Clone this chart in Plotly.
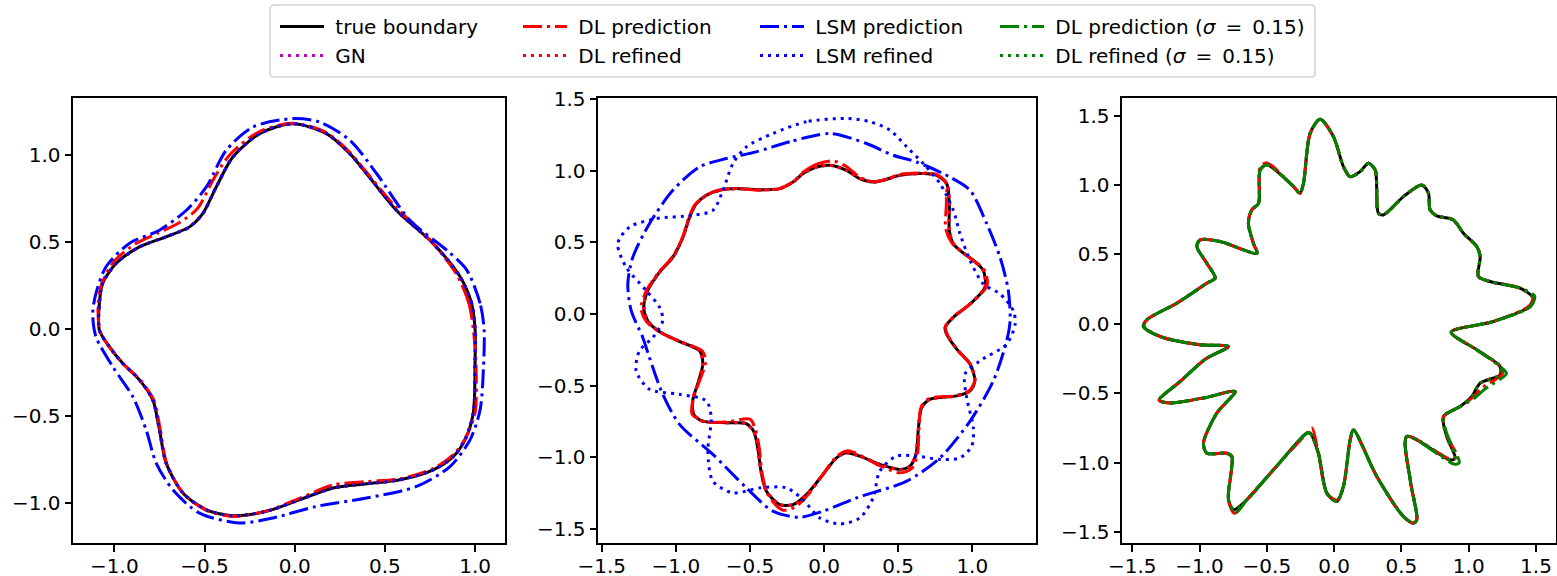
import plotly.graph_objects as go

# ---------------- data ----------------
# Panel 1
TRUE1_X = [1.0, 0.98, 0.917, 0.768, 0.565, 0.398, 0.306, 0.176, -0.01, -0.194, -0.343, -0.435, -0.509, -0.583, -0.713, -0.861, -0.991, -1.065, -1.083, -1.083, -1.028, -0.954, -0.861, -0.787, -0.75, -0.713, -0.62, -0.49, -0.343, -0.157, 0.028, 0.213, 0.398, 0.583, 0.768, 0.88, 0.944, 0.99, 1.0, 1.0]
TRUE1_Y = [0.0, 0.15, 0.30, 0.49, 0.68, 0.892, 1.006, 1.121, 1.178, 1.121, 0.987, 0.815, 0.663, 0.586, 0.529, 0.471, 0.376, 0.262, 0.147, -0.006, -0.101, -0.196, -0.292, -0.407, -0.578, -0.769, -0.941, -1.037, -1.071, -1.046, -0.979, -0.912, -0.888, -0.865, -0.808, -0.731, -0.636, -0.483, -0.196, 0.0]
DL1_X = [0.99, 0.965, 0.90, 0.76, 0.56, 0.39, 0.30, 0.17, -0.01, -0.20, -0.36, -0.45, -0.54, -0.64, -0.76, -0.88, -1.00, -1.07, -1.09, -1.08, -1.03, -0.95, -0.85, -0.78, -0.745, -0.71, -0.62, -0.49, -0.34, -0.16, 0.03, 0.21, 0.40, 0.58, 0.77, 0.88, 0.945, 1.0, 1.005, 0.99]
DL1_Y = [0.0, 0.15, 0.31, 0.50, 0.70, 0.91, 1.02, 1.13, 1.18, 1.13, 1.00, 0.86, 0.69, 0.61, 0.55, 0.49, 0.39, 0.26, 0.14, -0.01, -0.10, -0.20, -0.30, -0.41, -0.58, -0.77, -0.94, -1.04, -1.075, -1.045, -0.97, -0.895, -0.875, -0.86, -0.80, -0.72, -0.63, -0.48, -0.20, 0.0]
LSM1_X = [1.05, 1.028, 0.954, 0.843, 0.639, 0.454, 0.306, 0.139, -0.01, -0.231, -0.38, -0.49, -0.602, -0.75, -0.917, -1.046, -1.102, -1.12, -1.102, -1.009, -0.898, -0.824, -0.768, -0.676, -0.528, -0.306, -0.12, 0.12, 0.398, 0.676, 0.861, 0.972, 1.028, 1.046, 1.05]
LSM1_Y = [0.0, 0.147, 0.338, 0.452, 0.624, 0.892, 1.083, 1.187, 1.207, 1.159, 1.025, 0.815, 0.68, 0.567, 0.491, 0.357, 0.204, 0.09, -0.044, -0.216, -0.388, -0.578, -0.769, -0.922, -1.056, -1.113, -1.084, -1.018, -0.97, -0.903, -0.789, -0.636, -0.464, -0.235, 0.0]

# Panel 2
TRUE2_X = [0.04, -0.051, -0.142, -0.209, -0.299, -0.457, -0.592, -0.705, -0.795, -0.862, -0.907, -0.952, -1.02, -1.11, -1.189, -1.216, -1.189, -1.12, -0.98, -0.84, -0.818, -0.85, -0.885, -0.88, -0.818, -0.66, -0.53, -0.475, -0.445, -0.425, -0.389, -0.299, -0.209, -0.119, -0.007, 0.084, 0.151, 0.241, 0.376, 0.511, 0.579, 0.62, 0.635, 0.658, 0.713, 0.895, 0.985, 1.017, 0.985, 0.895, 0.827, 0.816, 0.872, 0.985, 1.086, 1.074, 1.007, 0.917, 0.872, 0.845, 0.845, 0.827, 0.759, 0.669, 0.511, 0.399, 0.331, 0.241, 0.151, 0.04]
TRUE2_Y = [1.039, 1.027, 0.981, 0.922, 0.876, 0.869, 0.876, 0.864, 0.829, 0.771, 0.677, 0.537, 0.397, 0.292, 0.164, 0.047, -0.047, -0.117, -0.19, -0.257, -0.35, -0.48, -0.60, -0.70, -0.748, -0.76, -0.765, -0.82, -0.95, -1.10, -1.238, -1.332, -1.332, -1.262, -1.121, -1.005, -0.97, -0.993, -1.051, -1.086, -1.063, -0.98, -0.818, -0.654, -0.596, -0.572, -0.537, -0.467, -0.35, -0.245, -0.14, -0.094, -0.023, 0.07, 0.187, 0.304, 0.374, 0.444, 0.491, 0.584, 0.771, 0.911, 0.969, 0.981, 0.969, 0.934, 0.922, 0.946, 1.004, 1.039]
DL2_X = [0.06, -0.04, -0.142, -0.209, -0.299, -0.457, -0.592, -0.705, -0.795, -0.87, -0.915, -0.96, -1.03, -1.12, -1.2, -1.235, -1.2, -1.12, -0.98, -0.82, -0.80, -0.845, -0.885, -0.89, -0.818, -0.66, -0.5, -0.465, -0.435, -0.42, -0.38, -0.28, -0.19, -0.11, -0.007, 0.084, 0.16, 0.25, 0.376, 0.511, 0.59, 0.63, 0.64, 0.655, 0.71, 0.895, 0.985, 1.017, 0.985, 0.895, 0.83, 0.82, 0.872, 0.985, 1.10, 1.08, 1.007, 0.917, 0.86, 0.82, 0.825, 0.82, 0.759, 0.669, 0.511, 0.399, 0.331, 0.241, 0.151, 0.06]
DL2_Y = [1.07, 1.05, 0.99, 0.925, 0.876, 0.865, 0.876, 0.866, 0.83, 0.765, 0.665, 0.52, 0.39, 0.285, 0.16, 0.04, -0.05, -0.12, -0.19, -0.26, -0.34, -0.48, -0.60, -0.70, -0.75, -0.755, -0.735, -0.80, -0.95, -1.10, -1.26, -1.37, -1.345, -1.265, -1.12, -0.995, -0.955, -0.99, -1.06, -1.11, -1.08, -0.98, -0.818, -0.65, -0.59, -0.57, -0.53, -0.46, -0.35, -0.245, -0.14, -0.09, -0.02, 0.07, 0.20, 0.31, 0.374, 0.444, 0.50, 0.60, 0.77, 0.92, 0.975, 0.985, 0.975, 0.935, 0.925, 0.955, 1.03, 1.07]
LSM2_X = [0.04, -0.232, -0.457, -0.659, -0.84, -1.02, -1.178, -1.29, -1.324, -1.301, -1.223, -1.178, -1.088, -0.975, -0.75, -0.524, -0.345, -0.164, -0.007, 0.219, 0.557, 0.782, 0.985, 1.142, 1.232, 1.255, 1.243, 1.187, 1.097, 0.985, 0.849, 0.624, 0.466, 0.286, 0.04]
LSM2_Y = [1.261, 1.203, 1.133, 1.086, 1.028, 0.864, 0.631, 0.397, 0.21, 0.023, -0.164, -0.304, -0.561, -0.771, -0.981, -1.215, -1.378, -1.42, -1.378, -1.285, -1.168, -1.005, -0.748, -0.467, -0.187, -0.047, 0.164, 0.397, 0.631, 0.864, 0.957, 1.062, 1.109, 1.191, 1.261]
LSMR2_X = [0.151, -0.119, -0.345, -0.524, -0.615, -0.682, -0.75, -0.885, -1.133, -1.313, -1.392, -1.335, -1.2, -1.11, -1.088, -1.155, -1.245, -1.268, -1.178, -0.975, -0.795, -0.761, -0.784, -0.75, -0.615, -0.434, -0.254, -0.142, -0.029, 0.106, 0.241, 0.331, 0.376, 0.489, 0.624, 0.782, 0.917, 0.996, 1.007, 0.962, 0.951, 1.052, 1.232, 1.289, 1.277, 1.187, 1.074, 0.985, 0.917, 0.872, 0.782, 0.669, 0.557, 0.444, 0.309, 0.151]
LSMR2_Y = [1.366, 1.343, 1.261, 1.168, 1.051, 0.864, 0.724, 0.689, 0.666, 0.607, 0.491, 0.327, 0.164, 0.047, -0.047, -0.164, -0.257, -0.397, -0.526, -0.561, -0.607, -0.724, -0.958, -1.168, -1.25, -1.215, -1.215, -1.297, -1.425, -1.467, -1.425, -1.285, -1.098, -0.993, -0.993, -1.016, -1.005, -0.923, -0.795, -0.584, -0.42, -0.327, -0.21, -0.07, 0.023, 0.14, 0.21, 0.374, 0.561, 0.724, 0.911, 1.051, 1.168, 1.285, 1.343, 1.366]

# Panel 3
TRUE3_X = [-0.104, -0.005, 0.069, 0.119, 0.193, 0.255, 0.305, 0.329, 0.366, 0.515, 0.651, 0.701, 0.713, 0.763, 0.886, 0.961, 1.06, 1.085, 1.072, 1.159, 1.382, 1.481, 1.456, 1.183, 0.87, 1.06, 1.233, 1.233, 1.085, 1.023, 0.936, 0.812, 0.837, 0.899, 0.862, 0.54, 0.565, 0.614, 0.589, 0.515, 0.317, 0.143, 0.119, 0.069, 0.02, -0.054, -0.117, -0.178, -0.203, -0.451, -0.649, -0.748, -0.785, -0.76, -0.797, -0.946, -0.971, -0.872, -0.736, -0.95, -1.22, -1.3, -1.15, -0.95, -0.785, -1.0, -1.293, -1.417, -1.392, -1.169, -0.946, -0.884, -0.946, -1.02, -0.996, -0.847, -0.574, -0.6, -0.637, -0.612, -0.562, -0.55, -0.5, -0.302, -0.253, -0.228, -0.178, -0.104]
TRUE3_Y = [1.475, 1.349, 1.133, 1.061, 1.097, 1.158, 1.109, 0.797, 0.785, 0.917, 1.001, 0.941, 0.821, 0.778, 0.749, 0.653, 0.557, 0.485, 0.341, 0.305, 0.257, 0.185, 0.125, 0.017, -0.06, -0.187, -0.308, -0.367, -0.427, -0.524, -0.596, -0.668, -0.812, -0.968, -0.98, -0.812, -1.124, -1.412, -1.436, -1.388, -1.1, -0.764, -0.836, -1.172, -1.28, -1.22, -0.932, -0.788, -0.788, -1.052, -1.268, -1.34, -1.268, -0.956, -0.932, -0.932, -0.86, -0.643, -0.488, -0.53, -0.57, -0.55, -0.42, -0.25, -0.163, -0.15, -0.091, -0.019, 0.029, 0.149, 0.293, 0.329, 0.437, 0.557, 0.605, 0.593, 0.509, 0.581, 0.725, 0.821, 0.869, 1.109, 1.146, 0.989, 0.941, 1.013, 1.373, 1.475]
DL3_X = [-0.104, -0.005, 0.069, 0.119, 0.193, 0.255, 0.305, 0.329, 0.366, 0.515, 0.651, 0.701, 0.713, 0.763, 0.886, 0.961, 1.06, 1.085, 1.072, 1.159, 1.382, 1.475, 1.45, 1.183, 0.87, 1.06, 1.24, 1.25, 1.10, 1.03, 0.936, 0.815, 0.84, 0.91, 0.87, 0.54, 0.565, 0.614, 0.589, 0.515, 0.317, 0.143, 0.119, 0.069, 0.02, -0.054, -0.117, -0.165, -0.203, -0.451, -0.649, -0.74, -0.785, -0.76, -0.797, -0.946, -0.971, -0.872, -0.736, -0.95, -1.22, -1.3, -1.15, -0.95, -0.785, -1.0, -1.293, -1.41, -1.392, -1.169, -0.946, -0.884, -0.946, -1.02, -0.996, -0.847, -0.574, -0.6, -0.637, -0.612, -0.562, -0.55, -0.5, -0.302, -0.253, -0.228, -0.178, -0.104]
DL3_Y = [1.475, 1.349, 1.133, 1.061, 1.097, 1.158, 1.109, 0.797, 0.785, 0.917, 1.001, 0.941, 0.821, 0.778, 0.749, 0.653, 0.557, 0.485, 0.341, 0.305, 0.257, 0.19, 0.13, 0.017, -0.06, -0.187, -0.31, -0.36, -0.46, -0.53, -0.596, -0.668, -0.812, -0.95, -0.975, -0.812, -1.124, -1.412, -1.436, -1.388, -1.1, -0.764, -0.836, -1.172, -1.27, -1.22, -0.932, -0.75, -0.788, -1.052, -1.268, -1.365, -1.268, -0.956, -0.932, -0.932, -0.86, -0.643, -0.488, -0.53, -0.57, -0.55, -0.42, -0.25, -0.163, -0.15, -0.091, -0.019, 0.029, 0.149, 0.293, 0.329, 0.437, 0.557, 0.605, 0.593, 0.509, 0.581, 0.725, 0.821, 0.869, 1.13, 1.16, 0.989, 0.941, 1.013, 1.373, 1.475]
DLS3_X = [-0.104, -0.005, 0.069, 0.119, 0.193, 0.255, 0.305, 0.329, 0.366, 0.515, 0.651, 0.701, 0.713, 0.763, 0.886, 0.961, 1.06, 1.085, 1.072, 1.159, 1.382, 1.49, 1.46, 1.183, 0.87, 1.06, 1.26, 1.28, 1.12, 1.05, 0.936, 0.815, 0.845, 0.93, 0.89, 0.54, 0.565, 0.614, 0.589, 0.515, 0.317, 0.143, 0.119, 0.069, 0.02, -0.054, -0.117, -0.178, -0.203, -0.451, -0.649, -0.73, -0.785, -0.76, -0.797, -0.946, -0.971, -0.872, -0.736, -0.95, -1.22, -1.3, -1.15, -0.95, -0.785, -1.0, -1.293, -1.417, -1.392, -1.169, -0.946, -0.884, -0.946, -1.02, -0.996, -0.847, -0.574, -0.6, -0.637, -0.612, -0.562, -0.55, -0.5, -0.302, -0.253, -0.228, -0.178, -0.104]
DLS3_Y = [1.475, 1.349, 1.133, 1.061, 1.097, 1.158, 1.109, 0.797, 0.785, 0.917, 1.001, 0.941, 0.821, 0.778, 0.749, 0.653, 0.557, 0.485, 0.341, 0.305, 0.257, 0.2, 0.125, 0.017, -0.06, -0.187, -0.33, -0.36, -0.47, -0.53, -0.596, -0.668, -0.812, -1.0, -1.01, -0.812, -1.124, -1.412, -1.436, -1.388, -1.1, -0.764, -0.836, -1.172, -1.28, -1.22, -0.932, -0.788, -0.788, -1.052, -1.268, -1.36, -1.268, -0.956, -0.932, -0.932, -0.86, -0.643, -0.488, -0.53, -0.57, -0.55, -0.42, -0.25, -0.163, -0.15, -0.091, -0.019, 0.029, 0.149, 0.293, 0.329, 0.437, 0.557, 0.605, 0.593, 0.509, 0.581, 0.725, 0.821, 0.869, 1.109, 1.146, 0.989, 0.941, 1.013, 1.373, 1.475]

# ticks
TICKS_1 = [-1.0, -0.5, 0.0, 0.5, 1.0]
TICKS_2X = [-1.5, -1.0, -0.5, 0.0, 0.5, 1.0]
TICKS_2Y = [-1.5, -1.0, -0.5, 0.0, 0.5, 1.0, 1.5]
TICKS_3 = [-1.5, -1.0, -0.5, 0.0, 0.5, 1.0, 1.5]

NB = "\u00a0"
LABELS = {
    "true": "true boundary",
    "gn": "GN",
    "dl": "DL prediction",
    "dlr": "DL refined",
    "lsm": "LSM prediction",
    "lsmr": "LSM refined",
    "dls": "DL prediction (<i>σ</i>\u2002=\u20020.15)",
    "dlsr": "DL refined (<i>σ</i>\u2002=\u20020.15)",
}

# ---------------- styles ----------------
FONT = "DejaVu Sans"
LW = 3
DASHDOT = "19px,5px,3px,5px"
DOT = "3px,5px"
STYLE = {
    "true": dict(color="black", dash="solid"),
    "gn": dict(color="#bf00bf", dash=DOT),
    "dl": dict(color="red", dash=DASHDOT),
    "dlr": dict(color="red", dash=DOT),
    "lsm": dict(color="blue", dash=DASHDOT),
    "lsmr": dict(color="blue", dash=DOT),
    "dls": dict(color="green", dash=DASHDOT),
    "dlsr": dict(color="green", dash=DOT),
}
LEGEND_OF = {"true": "legend", "gn": "legend", "dl": "legend2", "dlr": "legend2",
             "lsm": "legend3", "lsmr": "legend3", "dls": "legend4", "dlsr": "legend4"}

fig = go.Figure()
shown = set()


def add(key, xs, ys, panel):
    ax = "" if panel == 1 else str(panel)
    st = STYLE[key]
    fig.add_trace(go.Scatter(
        x=xs, y=ys, mode="lines", name=NB + LABELS[key],
        line=dict(color=st["color"], dash=st["dash"], width=LW, shape="spline", smoothing=0.8),
        xaxis="x" + ax, yaxis="y" + ax,
        legend=LEGEND_OF[key], showlegend=key not in shown,
    ))
    shown.add(key)


# Panel 1
add("true", TRUE1_X, TRUE1_Y, 1)
add("gn", TRUE1_X, TRUE1_Y, 1)
add("dl", DL1_X, DL1_Y, 1)
add("dlr", TRUE1_X, TRUE1_Y, 1)
add("lsm", LSM1_X, LSM1_Y, 1)
add("lsmr", TRUE1_X, TRUE1_Y, 1)
# Panel 2
add("true", TRUE2_X, TRUE2_Y, 2)
add("gn", TRUE2_X, TRUE2_Y, 2)
add("dl", DL2_X, DL2_Y, 2)
add("dlr", TRUE2_X, TRUE2_Y, 2)
add("lsm", LSM2_X, LSM2_Y, 2)
add("lsmr", LSMR2_X, LSMR2_Y, 2)
# Panel 3
add("true", TRUE3_X, TRUE3_Y, 3)
add("dl", DL3_X, DL3_Y, 3)
add("dlr", TRUE3_X, TRUE3_Y, 3)
add("dls", DLS3_X, DLS3_Y, 3)
add("dlsr", TRUE3_X, TRUE3_Y, 3)

W, H = 1557, 576
YDOM = [1 - 542.7 / H, 1 - 98.3 / H]


def axis(rng, ticks, dom, anchor, is_x):
    d = dict(range=rng, tickvals=ticks, ticktext=[f"{t:.1f}".replace("-", "−") for t in ticks],
             showgrid=False, zeroline=False, showline=True, linecolor="black", linewidth=1.6,
             mirror=True, ticks="outside", ticklen=7, tickwidth=1.6, tickcolor="black",
             tickfont=dict(family=FONT, size=20, color="black"), automargin=False,
             domain=dom, anchor=anchor)
    if is_x:
        d["ticklabelstandoff"] = -3
    return d


leg_common = dict(bgcolor="rgba(0,0,0,0)", borderwidth=0, font=dict(family=FONT, size=20, color="black"),
                  xanchor="left", yanchor="top", itemwidth=44, tracegroupgap=0, orientation="v")
LEG_X = [275, 518, 755, 995]

fig.update_layout(
    width=W, height=H, margin=dict(l=0, r=0, t=0, b=0), autosize=False,
    paper_bgcolor="white", plot_bgcolor="white",
    font=dict(family=FONT, size=20, color="black"),
    xaxis=axis([-1.2276, 1.166], TICKS_1, [73.3 / W, 505 / W], "y", True),
    yaxis=axis([-1.226, 1.3236], TICKS_1, YDOM, "x", False),
    xaxis2=axis([-1.523, 1.4277], TICKS_2X, [598.3 / W, 1035.7 / W], "y2", True),
    yaxis2=axis([-1.598, 1.507], TICKS_2Y, YDOM, "x2", False),
    xaxis3=axis([-1.574, 1.6486], TICKS_3, [1122.3 / W, 1556 / W], "y3", True),
    yaxis3=axis([-1.577, 1.6254], TICKS_3, YDOM, "x3", False),
    legend=dict(x=LEG_X[0] / W, y=1 - 7 / H, **leg_common),
    legend2=dict(x=LEG_X[1] / W, y=1 - 7 / H, **leg_common),
    legend3=dict(x=LEG_X[2] / W, y=1 - 7 / H, **leg_common),
    legend4=dict(x=LEG_X[3] / W, y=1 - 7 / H, **leg_common),
)

# legend frame (rounded rectangle)
x0, x1, y0, y1, r = 270, 1315, 5, 77, 4
px = lambda v: v / W
py = lambda v: 1 - v / H
path = (f"M {px(x0 + r)},{py(y0)} L {px(x1 - r)},{py(y0)} Q {px(x1)},{py(y0)} {px(x1)},{py(y0 + r)} "
        f"L {px(x1)},{py(y1 - r)} Q {px(x1)},{py(y1)} {px(x1 - r)},{py(y1)} "
        f"L {px(x0 + r)},{py(y1)} Q {px(x0)},{py(y1)} {px(x0)},{py(y1 - r)} "
        f"L {px(x0)},{py(y0 + r)} Q {px(x0)},{py(y0)} {px(x0 + r)},{py(y0)} Z")
fig.add_shape(type="path", path=path, xref="paper", yref="paper",
              line=dict(color="#d4d4d4", width=1.6), fillcolor="rgba(255,255,255,0.8)", layer="below")

fig.write_html("out.html")
